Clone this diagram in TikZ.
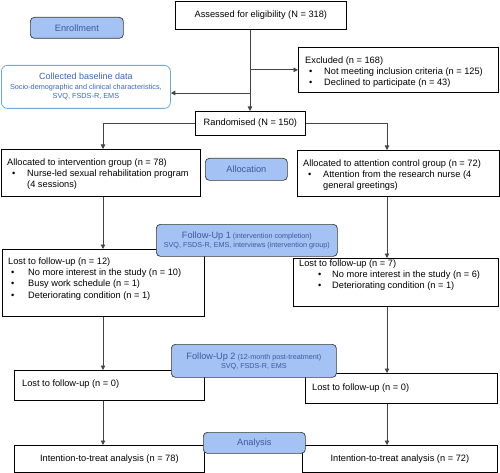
\documentclass[tikz,border=0pt]{standalone}
\usepackage{fontspec}
\setmainfont{Liberation Sans}
\usetikzlibrary{arrows.meta,calc}
\definecolor{bluefill}{HTML}{A4C2F4}
\definecolor{blueborder}{HTML}{3A3A3A}
\definecolor{bluetext}{HTML}{3C5A9E}
\definecolor{lightborder}{HTML}{6FA8DC}
\definecolor{lighttext}{HTML}{3D67B5}
\definecolor{conn}{HTML}{444444}
\newcommand{\bl}[2]{\makebox[#2pt][l]{\hspace{#1pt}\textbullet}}
\begin{document}
\begin{tikzpicture}[x=1pt,y=-1pt,
  mainbox/.style={draw=black,line width=0.7pt,fill=white,inner sep=0pt,anchor=north west,
    font=\fontsize{9.25}{11}\selectfont},
  bluebox/.style={draw=blueborder,line width=0.7pt,fill=bluefill,rounded corners=4pt,
    inner sep=0pt,anchor=north west,text=bluetext,align=center,
    font=\fontsize{7.2}{9}\selectfont},
  lightbox/.style={draw=lightborder,line width=0.8pt,fill=white,rounded corners=6pt,
    inner sep=0pt,anchor=north west,text=lighttext,align=center,
    font=\fontsize{7.3}{9.5}\selectfont},
  txt/.style={align=left,inner sep=0pt,anchor=north west,font=\fontsize{9.25}{11.2}\selectfont},
  arr/.style={draw=conn,line width=0.8pt,-{Triangle[length=4.5pt,width=4.5pt]}},
  big/.style={}]
\useasboundingbox (0,0) rectangle (500,473);

% column coordinates
\coordinate (colM) at (250,0);
\coordinate (colL) at (103,0);
\coordinate (colR) at (387,0);
\coordinate (cb) at (250,93);

% main boxes
\node[mainbox,minimum width=171pt,minimum height=28pt] (assess) at (175,1) {Assessed for eligibility (N = 318)};
\node[mainbox,minimum width=200pt,minimum height=45pt] (excl) at (298,47) {};
\node[txt] (exclT) at (305,56.5) {Excluded (n = 168)\\
  \bl{4}{19}Not meeting inclusion criteria (n = 125)\\
  \bl{4}{19}Declined to participate (n = 43)};
\node[lightbox,minimum width=169pt,minimum height=43pt] (collect) at (1,65)
  {{\fontsize{9}{9.5}\selectfont Collected baseline data}\\
   Socio-demographic and clinical characteristics,\\
   SVQ, FSDS-R, EMS};
\node[mainbox,minimum width=110pt,minimum height=24pt] (rand) at (195,111) {Randomised (N = 150)};

\node[mainbox,minimum width=199pt,minimum height=47pt] (interv) at (1,149) {};
\node[txt] (intervT) at (7,158.5) {Allocated to intervention group (n = 78)\\
  \bl{5}{20}Nurse-led sexual rehabilitation program\\
  \hspace*{20pt}(4 sessions)};
\node[mainbox,minimum width=202pt,minimum height=46pt] (atten) at (297,150) {};
\node[txt] (attenT) at (303,159.5) {Allocated to attention control group (n = 72)\\
  \bl{5}{20}Attention from the research nurse (4\\
  \hspace*{20pt}general greetings)};

\node[mainbox,minimum width=202pt,minimum height=67pt] (lost1L) at (2,249) {};
\node[txt] (lost1LT) at (8,257.5) {Lost to follow-up (n = 12)\\
  \bl{3}{20}No more interest in the study (n = 10)\\
  \bl{3}{20}Busy work schedule (n = 1)\\
  \bl{3}{20}Deteriorating condition (n = 1)};
\node[mainbox,minimum width=205pt,minimum height=48pt] (lost1R) at (293,258) {};
\node[txt] (lost1RT) at (299,259.5) {Lost to follow-up (n = 7)\\
  \bl{19}{33}No more interest in the study (n = 6)\\
  \bl{19}{33}Deteriorating condition (n = 1)};

\node[mainbox,minimum width=190pt,minimum height=30pt] (lost2L) at (14,370) {};
\node[txt] (lost2LT) at (22,379.5) {Lost to follow-up (n = 0)};
\node[mainbox,minimum width=192pt,minimum height=30pt] (lost2R) at (305,373) {};
\node[txt] (lost2RT) at (312,383.5) {Lost to follow-up (n = 0)};

\node[mainbox,minimum width=190pt,minimum height=27pt] (ittL) at (14,445) {Intention-to-treat analysis (n = 78)};
\node[mainbox,minimum width=195pt,minimum height=27pt] (ittR) at (302,445) {Intention-to-treat analysis (n = 72)};

% connectors
\draw[arr] (colM |- assess.south) -- (colM |- rand.north);
\draw[arr] (colM |- excl.west) -- (excl.west);
\draw[arr] (cb) -- (cb -| collect.east);
\draw[arr] (rand.west) -| (colL |- interv.north);
\draw[arr] (rand.east) -| (colR |- atten.north);
\draw[arr] (colL |- interv.south) -- (colL |- lost1L.north);
\draw[arr] (colR |- atten.south) -- (colR |- lost1R.north);
\draw[arr] (colL |- lost1L.south) -- (colL |- lost2L.north);
\draw[arr] (colR |- lost1R.south) -- (colR |- lost2R.north);
\draw[arr] (colL |- lost2L.south) -- (colL |- ittL.north);
\draw[arr] (colR |- lost2R.south) -- (colR |- ittR.north);

% blue stage boxes
\node[bluebox,minimum width=93pt,minimum height=21pt,font=\fontsize{9.2}{10}\selectfont] (enroll) at (30,17) {Enrollment};
\node[bluebox,minimum width=82pt,minimum height=22pt,font=\fontsize{9.2}{10}\selectfont] (alloc) at (205,158) {Allocation};
\node[bluebox,minimum width=181pt,minimum height=32pt] (fu1) at (156,224)
  {{\fontsize{9.2}{9}\selectfont Follow-Up 1} (intervention completion)\\
   SVQ, FSDS-R, EMS, interviews (intervention group)};
\node[bluebox,minimum width=165pt,minimum height=33pt] (fu2) at (171,344)
  {{\fontsize{9.2}{9}\selectfont Follow-Up 2} (12-month post-treatment)\\
   SVQ, FSDS-R, EMS};
\node[bluebox,minimum width=102pt,minimum height=21pt,font=\fontsize{9.2}{10}\selectfont] (analysis) at (203,432) {Analysis};
\end{tikzpicture}
\end{document}
